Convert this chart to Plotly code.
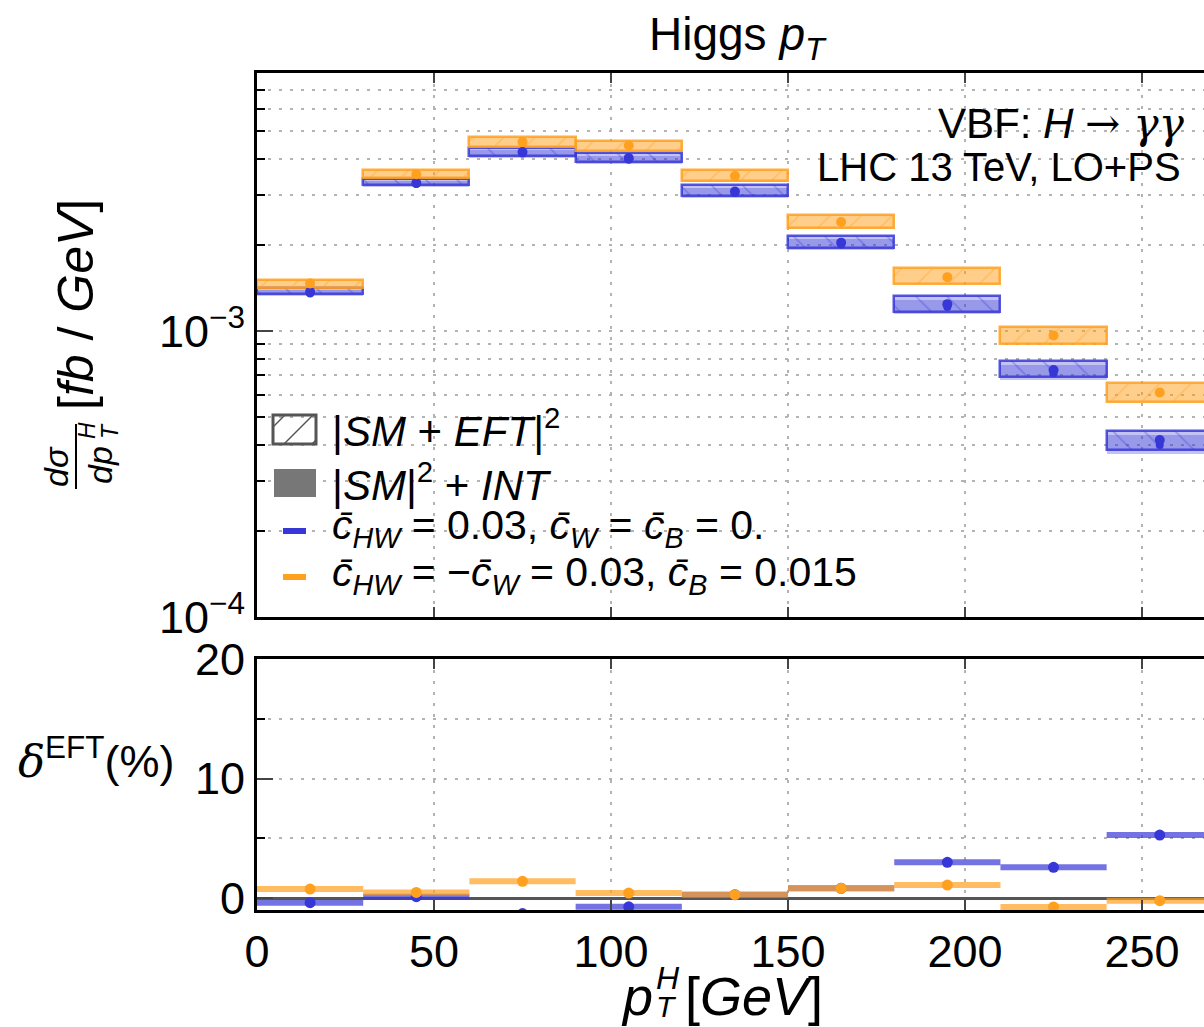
import plotly.graph_objects as go

W, H = 1204, 1027

# ---- data -------------------------------------------------------------
bin_lo = [0, 30, 60, 90, 120, 150, 180, 210, 240]
bin_hi = [30, 60, 90, 120, 150, 180, 210, 240, 270]
x_ticks = [0, 50, 100, 150, 200, 250]

# c_HW = 0.03, c_W = c_B = 0  (fb/GeV)
blue_eft_lo = [1.345e-3, 3.240e-3, 4.110e-3, 3.910e-3, 2.980e-3, 1.955e-3, 1.170e-3, 0.690e-3, 0.384e-3]
blue_eft_hi = [1.417e-3, 3.420e-3, 4.388e-3, 4.202e-3, 3.240e-3, 2.148e-3, 1.326e-3, 0.785e-3, 0.448e-3]
blue_int_lo = [1.328e-3, 3.196e-3, 4.050e-3, 3.858e-3, 2.934e-3, 1.920e-3, 1.147e-3, 0.674e-3, 0.371e-3]
blue_int_hi = [1.390e-3, 3.350e-3, 4.290e-3, 4.110e-3, 3.160e-3, 2.100e-3, 1.290e-3, 0.762e-3, 0.433e-3]
blue_eft_val = [1.372e-3, 3.30e-3, 4.23e-3, 4.03e-3, 3.08e-3, 2.04e-3, 1.243e-3, 0.731e-3, 0.416e-3]
blue_int_val = [1.355e-3, 3.27e-3, 4.18e-3, 3.98e-3, 3.04e-3, 2.01e-3, 1.215e-3, 0.712e-3, 0.400e-3]

# c_HW = -c_W = 0.03, c_B = 0.015  (fb/GeV)
orange_eft_lo = [1.412e-3, 3.430e-3, 4.400e-3, 4.280e-3, 3.340e-3, 2.290e-3, 1.465e-3, 0.905e-3, 0.566e-3]
orange_eft_hi = [1.516e-3, 3.677e-3, 4.779e-3, 4.628e-3, 3.677e-3, 2.559e-3, 1.657e-3, 1.035e-3, 0.656e-3]
orange_int_lo = [1.406e-3, 3.420e-3, 4.388e-3, 4.270e-3, 3.327e-3, 2.279e-3, 1.457e-3, 0.901e-3, 0.563e-3]
orange_int_hi = [1.508e-3, 3.660e-3, 4.760e-3, 4.610e-3, 3.660e-3, 2.545e-3, 1.648e-3, 1.030e-3, 0.652e-3]
orange_eft_val = [1.468e-3, 3.54e-3, 4.59e-3, 4.46e-3, 3.49e-3, 2.41e-3, 1.545e-3, 0.966e-3, 0.610e-3]
orange_int_val = [1.462e-3, 3.53e-3, 4.57e-3, 4.44e-3, 3.47e-3, 2.40e-3, 1.537e-3, 0.962e-3, 0.607e-3]

# relative EFT effect delta^EFT in percent
blue_delta = [-0.39, 0.11, -1.30, -0.73, 0.28, 0.81, 2.99, 2.57, 5.27]
orange_delta = [0.75, 0.47, 1.40, 0.42, 0.28, 0.81, 1.09, -0.75, -0.22]

# ---- styling ----------------------------------------------------------
FONT = "Liberation Sans"
SERIF = "DejaVu Serif"
BLUE = (55, 55, 215)
ORANGE = (255, 160, 30)


def rgba(c, a):
    return f"rgba({c[0]},{c[1]},{c[2]},{a})"


def px(x):
    return x / W


def py(y):
    return 1 - y / H


centers = [(a + b) / 2 for a, b in zip(bin_lo, bin_hi)]
widths = [b - a for a, b in zip(bin_lo, bin_hi)]

fig = go.Figure()


def band(lo, hi, col, hatch):
    if hatch:
        marker = dict(
            color=rgba(col, 0.30),
            line=dict(color=rgba(col, 0.85), width=2.5),
            pattern=dict(shape=hatch, fgcolor=rgba(col, 0.75), size=22,
                         solidity=0.07, fillmode="overlay"),
        )
    else:
        marker = dict(color=rgba(col, 0.30), line=dict(width=0))
    return go.Bar(x=centers, y=[h - l for l, h in zip(lo, hi)], base=lo,
                  width=widths, marker=marker, xaxis="x", yaxis="y",
                  showlegend=False, hoverinfo="skip")


fig.add_trace(band(blue_eft_lo, blue_eft_hi, BLUE, "\\"))
fig.add_trace(band(blue_int_lo, blue_int_hi, BLUE, None))
fig.add_trace(band(orange_eft_lo, orange_eft_hi, ORANGE, "/"))
fig.add_trace(band(orange_int_lo, orange_int_hi, ORANGE, None))

for vals, col, size in [(blue_int_val, BLUE, 8), (blue_eft_val, BLUE, 10),
                        (orange_int_val, ORANGE, 8), (orange_eft_val, ORANGE, 10)]:
    fig.add_trace(go.Scatter(x=centers, y=vals, mode="markers", xaxis="x", yaxis="y",
                             marker=dict(color=rgba(col, 1), size=size),
                             showlegend=False, hoverinfo="skip"))

# ratio panel: one horizontal segment per bin plus a dot at the bin centre
for vals, col in [(blue_delta, BLUE), (orange_delta, ORANGE)]:
    xs, ys = [], []
    for a, b, v in zip(bin_lo, bin_hi, vals):
        xs += [a, b, None]
        ys += [v, v, None]
    fig.add_trace(go.Scatter(x=xs, y=ys, mode="lines", xaxis="x2", yaxis="y2",
                             line=dict(color=rgba(col, 0.7), width=6),
                             showlegend=False, hoverinfo="skip"))
    fig.add_trace(go.Scatter(x=centers, y=vals, mode="markers", xaxis="x2", yaxis="y2",
                             marker=dict(color=rgba(col, 1), size=11),
                             showlegend=False, hoverinfo="skip"))

GRIDSTYLE = dict(gridcolor="#b3b3b3", gridwidth=1.5, griddash="3px,8px")
GRID = dict(showgrid=True, **GRIDSTYLE)
LINE = dict(showline=True, linecolor="black", linewidth=3, automargin=False)
TICKFONT = dict(family=FONT, size=45, color="black")
xdom = [px(257), 1]
xrange = [0, 267.5]

fig.update_layout(
    width=W, height=H, autosize=False,
    margin=dict(l=0, r=0, t=0, b=0, pad=0),
    paper_bgcolor="white", plot_bgcolor="white",
    barmode="overlay", bargap=0, showlegend=False,
    font=dict(family=FONT, color="black"),
    xaxis=dict(domain=xdom, range=xrange, anchor="y", tickvals=x_ticks[1:],
               showticklabels=False, ticks="inside", ticklen=10, tickwidth=2,
               mirror="ticks", zeroline=False, **GRID, **LINE),
    yaxis=dict(domain=[py(617), py(73)], type="log", range=[-4, -2.0969],
               anchor="x", tickvals=[1e-4, 1e-3],
               ticktext=["10<sup>−4</sup>", "10<sup>−3</sup>"],
               ticks="inside", ticklen=16, tickwidth=2, tickfont=TICKFONT,
               minor=dict(tickmode="array",
                          tickvals=[2e-4, 3e-4, 4e-4, 5e-4, 6e-4, 7e-4, 8e-4, 9e-4,
                                    2e-3, 3e-3, 4e-3, 5e-3, 6e-3, 7e-3],
                          ticks="inside", ticklen=8, tickwidth=2, tickcolor="black",
                          showgrid=True, **GRIDSTYLE),
               zeroline=False, mirror=False, **GRID, **LINE),
    xaxis2=dict(domain=xdom, range=xrange, anchor="y2", tickvals=x_ticks,
                ticks="inside", ticklen=10, tickwidth=2, tickfont=TICKFONT,
                mirror="ticks", zeroline=False, **GRID, **LINE),
    yaxis2=dict(domain=[py(910), py(659)], range=[-1, 20], anchor="x2",
                tickvals=[0, 10, 20], ticks="inside", ticklen=16, tickwidth=2,
                tickfont=TICKFONT,
                minor=dict(tickmode="array", tickvals=[5, 15], ticks="inside",
                           ticklen=8, tickwidth=2, tickcolor="black", showgrid=True,
                           **GRIDSTYLE),
                zeroline=True, zerolinecolor="#555555", zerolinewidth=3,
                mirror=False, **GRID, **LINE),
)

shapes = []
# legend: hatched box
shapes.append(dict(type="rect", xref="paper", yref="paper", x0=px(273), x1=px(316),
                   y0=py(444), y1=py(415), line=dict(color="#555555", width=3)))
for (xa, ya, xb, yb) in [(273, 427, 285, 415), (284, 444, 313, 415), (312, 444, 316, 440)]:
    shapes.append(dict(type="line", xref="paper", yref="paper", x0=px(xa), y0=py(ya),
                       x1=px(xb), y1=py(yb), line=dict(color="#555555", width=1.5)))
# legend: filled box
shapes.append(dict(type="rect", xref="paper", yref="paper", x0=px(274), x1=px(316),
                   y0=py(497), y1=py(469), fillcolor="#777777", line=dict(width=0)))
# legend: colour keys
for yc, col in [(531, BLUE), (577, ORANGE)]:
    shapes.append(dict(type="rect", xref="paper", yref="paper", x0=px(283), x1=px(306),
                       y0=py(yc + 3), y1=py(yc - 3), fillcolor=rgba(col, 1),
                       line=dict(width=0)))
# fraction bar of the y-axis title
shapes.append(dict(type="line", xref="paper", yref="paper", x0=px(76), x1=px(76),
                   y0=py(424), y1=py(489), line=dict(color="black", width=2)))
fig.update_layout(shapes=shapes)

cbar = "c\u0304"


def ann(text, x, y, size, xanchor="left", yanchor="middle", angle=0):
    return dict(text=text, x=px(x), y=py(y), xref="paper", yref="paper",
                xanchor=xanchor, yanchor=yanchor, showarrow=False, textangle=angle,
                font=dict(family=FONT, size=size, color="black"))


annotations = [
    ann("Higgs <i>p</i><sub><i>T</i></sub>", 738, 38, 46, "center"),
    ann(f'VBF: <i>H</i> <span style="font-family:{SERIF}">→ <i>γγ</i></span>',
        1187, 124, 42, "right"),
    ann("LHC 13 TeV, LO+PS", 1183, 167, 40, "right"),
    ann("|<i>SM</i> + <i>EFT</i>|<sup>2</sup>", 330, 428, 42),
    ann("|<i>SM</i>|<sup>2</sup> + <i>INT</i>", 330, 482, 42),
    ann(f"<i>{cbar}</i><sub><i>HW</i></sub> = 0.03, <i>{cbar}</i><sub><i>W</i></sub>"
        f" = <i>{cbar}</i><sub><i>B</i></sub> = 0.", 330, 528, 41),
    ann(f"<i>{cbar}</i><sub><i>HW</i></sub> = −<i>{cbar}</i><sub><i>W</i></sub>"
        f" = 0.03, <i>{cbar}</i><sub><i>B</i></sub> = 0.015", 330, 575, 41),
    # y-axis title of the upper panel
    ann("[<i>fb</i> / <i>GeV</i>]", 76, 305, 50, "center", "middle", -90),
    ann("<i>dσ</i>", 56, 467, 34, "center", "middle", -90),
    ann("<i>dp</i>", 100, 465, 34, "center", "middle", -90),
    ann("<i>H</i>", 87, 431, 23, "center", "middle", -90),
    ann("<i>T</i>", 110, 431, 23, "center", "middle", -90),
    # y-axis title of the ratio panel
    ann(f'<span style="font-family:{SERIF}"><i>δ</i></span><sup>EFT</sup>(%)',
        16, 758, 45),
    # x-axis title
    ann("<i>p</i>", 655, 996, 54, "right"),
    ann("<i>H</i>", 668, 978, 32, "center"),
    ann("<i>T</i>", 666, 1006, 30, "center"),
    ann("[<i>GeV</i>]", 683, 996, 54),
]
fig.update_layout(annotations=annotations)

fig.write_html("out.html")
